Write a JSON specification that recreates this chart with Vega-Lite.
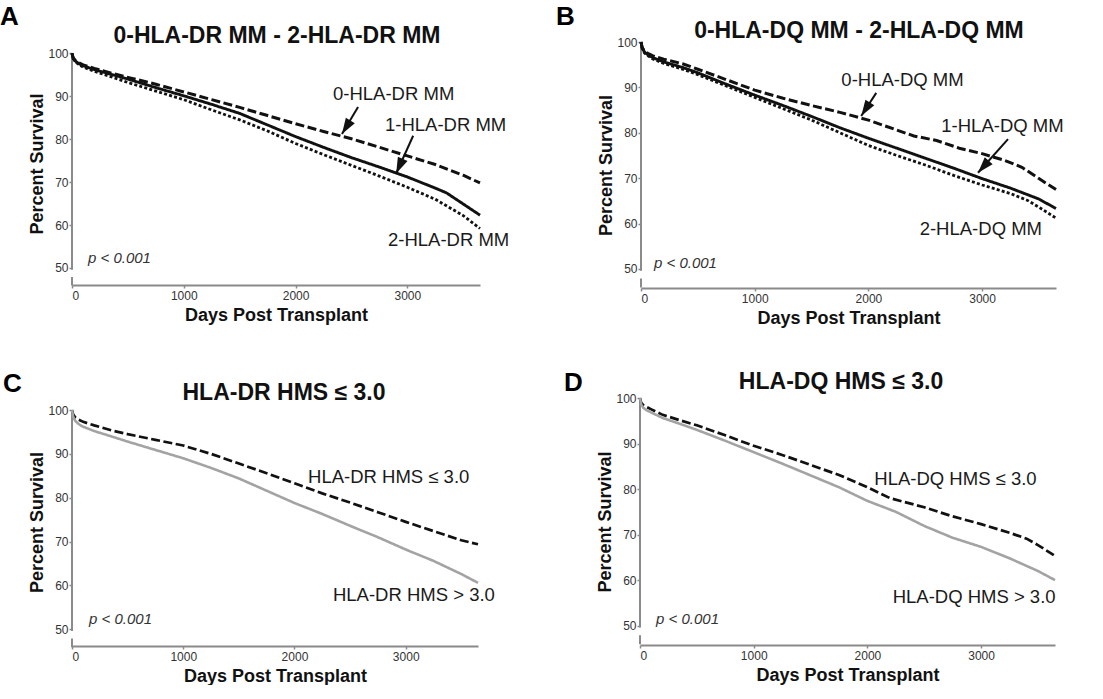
{
  "$schema": "https://vega.github.io/schema/vega-lite/v6.json",
  "description": "Kaplan-Meier survival by HLA-DR / HLA-DQ mismatch and HMS, four panels",
  "background": "white",
  "padding": {"left": 0, "top": 3, "right": 0, "bottom": 0},
  "config": {
    "font": "Liberation Sans",
    "view": {"stroke": null},
    "axis": {
      "grid": false, "domainColor": "#8a8a8a", "domainWidth": 2, "tickColor": "#8a8a8a", "tickWidth": 1.5,
      "tickSize": 3, "labelFont": "Liberation Sans", "labelFontSize": 12, "labelColor": "#333",
      "titleFont": "Liberation Sans", "titleFontSize": 18, "titleFontWeight": "bold", "titleColor": "#111"
    },
    "axisY": {"domain": false, "labelPadding": 1, "titlePadding": 1},
    "axisX": {"labelPadding": 2, "titlePadding": 5}
  },
  "datasets": {
    "ybreak": [
      {"day": 0, "pct": 49.6, "pct2": 100},
      {"day": 0, "pct": 45.9, "pct2": 47.9}
    ],
    "curves": [
      {"panel": "A", "group": "0 MM", "day": 0, "pct": 100}, {"panel": "A", "group": "0 MM", "day": 10, "pct": 99.0}, {"panel": "A", "group": "0 MM", "day": 30, "pct": 98.3}, {"panel": "A", "group": "0 MM", "day": 60, "pct": 97.8}, {"panel": "A", "group": "0 MM", "day": 100, "pct": 97.3}, {"panel": "A", "group": "0 MM", "day": 200, "pct": 96.5}, {"panel": "A", "group": "0 MM", "day": 365, "pct": 95.3}, {"panel": "A", "group": "0 MM", "day": 500, "pct": 94.4}, {"panel": "A", "group": "0 MM", "day": 750, "pct": 92.8}, {"panel": "A", "group": "0 MM", "day": 1000, "pct": 91.0}, {"panel": "A", "group": "0 MM", "day": 1250, "pct": 89.2}, {"panel": "A", "group": "0 MM", "day": 1500, "pct": 87.4}, {"panel": "A", "group": "0 MM", "day": 1750, "pct": 85.5}, {"panel": "A", "group": "0 MM", "day": 2000, "pct": 83.6}, {"panel": "A", "group": "0 MM", "day": 2250, "pct": 81.8}, {"panel": "A", "group": "0 MM", "day": 2500, "pct": 80.1}, {"panel": "A", "group": "0 MM", "day": 2750, "pct": 78.1}, {"panel": "A", "group": "0 MM", "day": 3000, "pct": 76.1}, {"panel": "A", "group": "0 MM", "day": 3250, "pct": 74.1}, {"panel": "A", "group": "0 MM", "day": 3500, "pct": 71.6}, {"panel": "A", "group": "0 MM", "day": 3650, "pct": 69.8},
      {"panel": "A", "group": "1 MM", "day": 0, "pct": 100}, {"panel": "A", "group": "1 MM", "day": 10, "pct": 98.9}, {"panel": "A", "group": "1 MM", "day": 30, "pct": 98.2}, {"panel": "A", "group": "1 MM", "day": 60, "pct": 97.6}, {"panel": "A", "group": "1 MM", "day": 100, "pct": 97.1}, {"panel": "A", "group": "1 MM", "day": 200, "pct": 96.2}, {"panel": "A", "group": "1 MM", "day": 365, "pct": 95.0}, {"panel": "A", "group": "1 MM", "day": 500, "pct": 94.0}, {"panel": "A", "group": "1 MM", "day": 750, "pct": 92.0}, {"panel": "A", "group": "1 MM", "day": 1000, "pct": 90.1}, {"panel": "A", "group": "1 MM", "day": 1250, "pct": 88.1}, {"panel": "A", "group": "1 MM", "day": 1500, "pct": 86.0}, {"panel": "A", "group": "1 MM", "day": 1750, "pct": 83.3}, {"panel": "A", "group": "1 MM", "day": 2000, "pct": 80.6}, {"panel": "A", "group": "1 MM", "day": 2250, "pct": 78.1}, {"panel": "A", "group": "1 MM", "day": 2500, "pct": 75.7}, {"panel": "A", "group": "1 MM", "day": 2750, "pct": 73.5}, {"panel": "A", "group": "1 MM", "day": 3000, "pct": 71.2}, {"panel": "A", "group": "1 MM", "day": 3250, "pct": 68.6}, {"panel": "A", "group": "1 MM", "day": 3350, "pct": 67.5}, {"panel": "A", "group": "1 MM", "day": 3500, "pct": 64.9}, {"panel": "A", "group": "1 MM", "day": 3650, "pct": 62.3},
      {"panel": "A", "group": "2 MM", "day": 0, "pct": 100}, {"panel": "A", "group": "2 MM", "day": 10, "pct": 98.8}, {"panel": "A", "group": "2 MM", "day": 30, "pct": 98.0}, {"panel": "A", "group": "2 MM", "day": 60, "pct": 97.4}, {"panel": "A", "group": "2 MM", "day": 100, "pct": 96.8}, {"panel": "A", "group": "2 MM", "day": 200, "pct": 95.8}, {"panel": "A", "group": "2 MM", "day": 365, "pct": 94.4}, {"panel": "A", "group": "2 MM", "day": 500, "pct": 93.2}, {"panel": "A", "group": "2 MM", "day": 750, "pct": 91.2}, {"panel": "A", "group": "2 MM", "day": 1000, "pct": 89.2}, {"panel": "A", "group": "2 MM", "day": 1250, "pct": 86.8}, {"panel": "A", "group": "2 MM", "day": 1500, "pct": 84.5}, {"panel": "A", "group": "2 MM", "day": 1750, "pct": 81.9}, {"panel": "A", "group": "2 MM", "day": 2000, "pct": 79.0}, {"panel": "A", "group": "2 MM", "day": 2250, "pct": 76.4}, {"panel": "A", "group": "2 MM", "day": 2500, "pct": 73.9}, {"panel": "A", "group": "2 MM", "day": 2750, "pct": 71.4}, {"panel": "A", "group": "2 MM", "day": 3000, "pct": 68.8}, {"panel": "A", "group": "2 MM", "day": 3250, "pct": 66.0}, {"panel": "A", "group": "2 MM", "day": 3500, "pct": 62.2}, {"panel": "A", "group": "2 MM", "day": 3650, "pct": 59.2},
      {"panel": "B", "group": "0 MM", "day": 0, "pct": 100}, {"panel": "B", "group": "0 MM", "day": 10, "pct": 98.8}, {"panel": "B", "group": "0 MM", "day": 30, "pct": 98.0}, {"panel": "B", "group": "0 MM", "day": 60, "pct": 97.5}, {"panel": "B", "group": "0 MM", "day": 100, "pct": 97.0}, {"panel": "B", "group": "0 MM", "day": 200, "pct": 96.2}, {"panel": "B", "group": "0 MM", "day": 365, "pct": 95.2}, {"panel": "B", "group": "0 MM", "day": 500, "pct": 94.0}, {"panel": "B", "group": "0 MM", "day": 750, "pct": 91.7}, {"panel": "B", "group": "0 MM", "day": 1000, "pct": 89.4}, {"panel": "B", "group": "0 MM", "day": 1250, "pct": 87.6}, {"panel": "B", "group": "0 MM", "day": 1500, "pct": 86.0}, {"panel": "B", "group": "0 MM", "day": 1750, "pct": 84.5}, {"panel": "B", "group": "0 MM", "day": 2000, "pct": 82.8}, {"panel": "B", "group": "0 MM", "day": 2250, "pct": 80.6}, {"panel": "B", "group": "0 MM", "day": 2400, "pct": 79.3}, {"panel": "B", "group": "0 MM", "day": 2600, "pct": 78.3}, {"panel": "B", "group": "0 MM", "day": 2800, "pct": 76.6}, {"panel": "B", "group": "0 MM", "day": 3000, "pct": 75.4}, {"panel": "B", "group": "0 MM", "day": 3200, "pct": 73.9}, {"panel": "B", "group": "0 MM", "day": 3350, "pct": 72.4}, {"panel": "B", "group": "0 MM", "day": 3500, "pct": 69.9}, {"panel": "B", "group": "0 MM", "day": 3650, "pct": 67.5},
      {"panel": "B", "group": "1 MM", "day": 0, "pct": 100}, {"panel": "B", "group": "1 MM", "day": 10, "pct": 98.8}, {"panel": "B", "group": "1 MM", "day": 30, "pct": 97.8}, {"panel": "B", "group": "1 MM", "day": 60, "pct": 97.2}, {"panel": "B", "group": "1 MM", "day": 100, "pct": 96.6}, {"panel": "B", "group": "1 MM", "day": 200, "pct": 95.6}, {"panel": "B", "group": "1 MM", "day": 365, "pct": 94.4}, {"panel": "B", "group": "1 MM", "day": 500, "pct": 93.2}, {"panel": "B", "group": "1 MM", "day": 750, "pct": 90.7}, {"panel": "B", "group": "1 MM", "day": 1000, "pct": 88.3}, {"panel": "B", "group": "1 MM", "day": 1250, "pct": 86.0}, {"panel": "B", "group": "1 MM", "day": 1500, "pct": 83.6}, {"panel": "B", "group": "1 MM", "day": 1750, "pct": 81.1}, {"panel": "B", "group": "1 MM", "day": 2000, "pct": 78.8}, {"panel": "B", "group": "1 MM", "day": 2250, "pct": 76.6}, {"panel": "B", "group": "1 MM", "day": 2500, "pct": 74.4}, {"panel": "B", "group": "1 MM", "day": 2750, "pct": 72.2}, {"panel": "B", "group": "1 MM", "day": 3000, "pct": 69.9}, {"panel": "B", "group": "1 MM", "day": 3250, "pct": 67.8}, {"panel": "B", "group": "1 MM", "day": 3500, "pct": 65.4}, {"panel": "B", "group": "1 MM", "day": 3650, "pct": 63.3},
      {"panel": "B", "group": "2 MM", "day": 0, "pct": 100}, {"panel": "B", "group": "2 MM", "day": 10, "pct": 98.6}, {"panel": "B", "group": "2 MM", "day": 30, "pct": 97.6}, {"panel": "B", "group": "2 MM", "day": 60, "pct": 97.0}, {"panel": "B", "group": "2 MM", "day": 100, "pct": 96.3}, {"panel": "B", "group": "2 MM", "day": 200, "pct": 95.3}, {"panel": "B", "group": "2 MM", "day": 365, "pct": 94.0}, {"panel": "B", "group": "2 MM", "day": 500, "pct": 92.8}, {"panel": "B", "group": "2 MM", "day": 750, "pct": 90.3}, {"panel": "B", "group": "2 MM", "day": 1000, "pct": 87.8}, {"panel": "B", "group": "2 MM", "day": 1250, "pct": 85.3}, {"panel": "B", "group": "2 MM", "day": 1500, "pct": 82.8}, {"panel": "B", "group": "2 MM", "day": 1750, "pct": 80.0}, {"panel": "B", "group": "2 MM", "day": 2000, "pct": 77.2}, {"panel": "B", "group": "2 MM", "day": 2250, "pct": 75.0}, {"panel": "B", "group": "2 MM", "day": 2500, "pct": 72.9}, {"panel": "B", "group": "2 MM", "day": 2750, "pct": 70.6}, {"panel": "B", "group": "2 MM", "day": 3000, "pct": 68.5}, {"panel": "B", "group": "2 MM", "day": 3250, "pct": 66.6}, {"panel": "B", "group": "2 MM", "day": 3400, "pct": 65.1}, {"panel": "B", "group": "2 MM", "day": 3500, "pct": 63.6}, {"panel": "B", "group": "2 MM", "day": 3650, "pct": 61.2},
      {"panel": "C", "group": "HMS ≤ 3.0", "day": 0, "pct": 100}, {"panel": "C", "group": "HMS ≤ 3.0", "day": 10, "pct": 99.0}, {"panel": "C", "group": "HMS ≤ 3.0", "day": 30, "pct": 98.3}, {"panel": "C", "group": "HMS ≤ 3.0", "day": 60, "pct": 97.8}, {"panel": "C", "group": "HMS ≤ 3.0", "day": 100, "pct": 97.3}, {"panel": "C", "group": "HMS ≤ 3.0", "day": 200, "pct": 96.5}, {"panel": "C", "group": "HMS ≤ 3.0", "day": 365, "pct": 95.3}, {"panel": "C", "group": "HMS ≤ 3.0", "day": 500, "pct": 94.5}, {"panel": "C", "group": "HMS ≤ 3.0", "day": 750, "pct": 93.2}, {"panel": "C", "group": "HMS ≤ 3.0", "day": 1000, "pct": 91.9}, {"panel": "C", "group": "HMS ≤ 3.0", "day": 1250, "pct": 90.0}, {"panel": "C", "group": "HMS ≤ 3.0", "day": 1500, "pct": 87.8}, {"panel": "C", "group": "HMS ≤ 3.0", "day": 1750, "pct": 85.6}, {"panel": "C", "group": "HMS ≤ 3.0", "day": 2000, "pct": 83.3}, {"panel": "C", "group": "HMS ≤ 3.0", "day": 2250, "pct": 81.0}, {"panel": "C", "group": "HMS ≤ 3.0", "day": 2500, "pct": 78.9}, {"panel": "C", "group": "HMS ≤ 3.0", "day": 2750, "pct": 76.7}, {"panel": "C", "group": "HMS ≤ 3.0", "day": 3000, "pct": 74.5}, {"panel": "C", "group": "HMS ≤ 3.0", "day": 3250, "pct": 72.4}, {"panel": "C", "group": "HMS ≤ 3.0", "day": 3500, "pct": 70.3}, {"panel": "C", "group": "HMS ≤ 3.0", "day": 3650, "pct": 69.4},
      {"panel": "C", "group": "HMS > 3.0", "day": 0, "pct": 100}, {"panel": "C", "group": "HMS > 3.0", "day": 10, "pct": 98.5}, {"panel": "C", "group": "HMS > 3.0", "day": 30, "pct": 97.5}, {"panel": "C", "group": "HMS > 3.0", "day": 60, "pct": 96.8}, {"panel": "C", "group": "HMS > 3.0", "day": 100, "pct": 96.2}, {"panel": "C", "group": "HMS > 3.0", "day": 200, "pct": 95.2}, {"panel": "C", "group": "HMS > 3.0", "day": 365, "pct": 93.9}, {"panel": "C", "group": "HMS > 3.0", "day": 500, "pct": 92.8}, {"panel": "C", "group": "HMS > 3.0", "day": 750, "pct": 90.9}, {"panel": "C", "group": "HMS > 3.0", "day": 1000, "pct": 89.0}, {"panel": "C", "group": "HMS > 3.0", "day": 1250, "pct": 86.8}, {"panel": "C", "group": "HMS > 3.0", "day": 1500, "pct": 84.4}, {"panel": "C", "group": "HMS > 3.0", "day": 1750, "pct": 81.6}, {"panel": "C", "group": "HMS > 3.0", "day": 2000, "pct": 78.8}, {"panel": "C", "group": "HMS > 3.0", "day": 2250, "pct": 76.3}, {"panel": "C", "group": "HMS > 3.0", "day": 2500, "pct": 73.6}, {"panel": "C", "group": "HMS > 3.0", "day": 2750, "pct": 71.0}, {"panel": "C", "group": "HMS > 3.0", "day": 3000, "pct": 68.2}, {"panel": "C", "group": "HMS > 3.0", "day": 3250, "pct": 65.6}, {"panel": "C", "group": "HMS > 3.0", "day": 3500, "pct": 62.6}, {"panel": "C", "group": "HMS > 3.0", "day": 3650, "pct": 60.6},
      {"panel": "D", "group": "HMS ≤ 3.0", "day": 0, "pct": 100}, {"panel": "D", "group": "HMS ≤ 3.0", "day": 10, "pct": 99.0}, {"panel": "D", "group": "HMS ≤ 3.0", "day": 30, "pct": 98.4}, {"panel": "D", "group": "HMS ≤ 3.0", "day": 60, "pct": 98.0}, {"panel": "D", "group": "HMS ≤ 3.0", "day": 100, "pct": 97.5}, {"panel": "D", "group": "HMS ≤ 3.0", "day": 200, "pct": 96.3}, {"panel": "D", "group": "HMS ≤ 3.0", "day": 365, "pct": 95.0}, {"panel": "D", "group": "HMS ≤ 3.0", "day": 500, "pct": 94.0}, {"panel": "D", "group": "HMS ≤ 3.0", "day": 750, "pct": 91.8}, {"panel": "D", "group": "HMS ≤ 3.0", "day": 1000, "pct": 89.5}, {"panel": "D", "group": "HMS ≤ 3.0", "day": 1250, "pct": 87.5}, {"panel": "D", "group": "HMS ≤ 3.0", "day": 1500, "pct": 85.3}, {"panel": "D", "group": "HMS ≤ 3.0", "day": 1750, "pct": 83.1}, {"panel": "D", "group": "HMS ≤ 3.0", "day": 2000, "pct": 80.4}, {"panel": "D", "group": "HMS ≤ 3.0", "day": 2200, "pct": 78.0}, {"panel": "D", "group": "HMS ≤ 3.0", "day": 2500, "pct": 76.0}, {"panel": "D", "group": "HMS ≤ 3.0", "day": 2750, "pct": 74.0}, {"panel": "D", "group": "HMS ≤ 3.0", "day": 3000, "pct": 72.3}, {"panel": "D", "group": "HMS ≤ 3.0", "day": 3250, "pct": 70.4}, {"panel": "D", "group": "HMS ≤ 3.0", "day": 3400, "pct": 69.1}, {"panel": "D", "group": "HMS ≤ 3.0", "day": 3500, "pct": 67.7}, {"panel": "D", "group": "HMS ≤ 3.0", "day": 3650, "pct": 65.3},
      {"panel": "D", "group": "HMS > 3.0", "day": 0, "pct": 100}, {"panel": "D", "group": "HMS > 3.0", "day": 10, "pct": 98.6}, {"panel": "D", "group": "HMS > 3.0", "day": 30, "pct": 97.8}, {"panel": "D", "group": "HMS > 3.0", "day": 60, "pct": 97.3}, {"panel": "D", "group": "HMS > 3.0", "day": 100, "pct": 96.8}, {"panel": "D", "group": "HMS > 3.0", "day": 200, "pct": 95.6}, {"panel": "D", "group": "HMS > 3.0", "day": 365, "pct": 94.2}, {"panel": "D", "group": "HMS > 3.0", "day": 500, "pct": 93.0}, {"panel": "D", "group": "HMS > 3.0", "day": 750, "pct": 90.6}, {"panel": "D", "group": "HMS > 3.0", "day": 1000, "pct": 88.1}, {"panel": "D", "group": "HMS > 3.0", "day": 1250, "pct": 85.6}, {"panel": "D", "group": "HMS > 3.0", "day": 1500, "pct": 83.0}, {"panel": "D", "group": "HMS > 3.0", "day": 1750, "pct": 80.4}, {"panel": "D", "group": "HMS > 3.0", "day": 2000, "pct": 77.4}, {"panel": "D", "group": "HMS > 3.0", "day": 2250, "pct": 75.0}, {"panel": "D", "group": "HMS > 3.0", "day": 2500, "pct": 71.9}, {"panel": "D", "group": "HMS > 3.0", "day": 2750, "pct": 69.3}, {"panel": "D", "group": "HMS > 3.0", "day": 3000, "pct": 67.3}, {"panel": "D", "group": "HMS > 3.0", "day": 3250, "pct": 64.8}, {"panel": "D", "group": "HMS > 3.0", "day": 3500, "pct": 62.0}, {"panel": "D", "group": "HMS > 3.0", "day": 3650, "pct": 60.0}
    ],
    "letters": [
      {"panel": "A", "text": "A", "day": -644, "pct": 106.6},
      {"panel": "B", "text": "B", "day": -748, "pct": 103.8},
      {"panel": "C", "text": "C", "day": -620, "pct": 104.1},
      {"panel": "D", "text": "D", "day": -668, "pct": 101.5}
    ],
    "headings": [
      {"panel": "A", "text": "0-HLA-DR MM - 2-HLA-DR MM", "day": 1834, "pct": 102.33},
      {"panel": "B", "text": "0-HLA-DQ MM - 2-HLA-DQ MM", "day": 1917, "pct": 100.9},
      {"panel": "C", "text": "HLA-DR HMS ≤ 3.0", "day": 1906, "pct": 102.28},
      {"panel": "D", "text": "HLA-DQ HMS ≤ 3.0", "day": 1768, "pct": 102.07}
    ],
    "labels": [
      {"panel": "A", "text": "0-HLA-DR MM", "day": 2335, "pct": 90.6},
      {"panel": "A", "text": "1-HLA-DR MM", "day": 2800, "pct": 83.3},
      {"panel": "A", "text": "2-HLA-DR MM", "day": 2827, "pct": 56.5},
      {"panel": "B", "text": "0-HLA-DQ MM", "day": 1762, "pct": 91.7},
      {"panel": "B", "text": "1-HLA-DQ MM", "day": 2641, "pct": 81.4},
      {"panel": "B", "text": "2-HLA-DQ MM", "day": 2451, "pct": 58.7},
      {"panel": "C", "text": "HLA-DR HMS ≤ 3.0", "day": 2122, "pct": 84.8},
      {"panel": "C", "text": "HLA-DR HMS > 3.0", "day": 2346, "pct": 57.8},
      {"panel": "D", "text": "HLA-DQ HMS ≤ 3.0", "day": 2061, "pct": 82.3},
      {"panel": "D", "text": "HLA-DQ HMS > 3.0", "day": 2222, "pct": 56.2}
    ],
    "pvalues": [
      {"panel": "A", "text": "p < 0.001", "day": 143, "pct": 52.3},
      {"panel": "B", "text": "p < 0.001", "day": 114, "pct": 51.3},
      {"panel": "C", "text": "p < 0.001", "day": 153, "pct": 52.3},
      {"panel": "D", "text": "p < 0.001", "day": 141, "pct": 51.5}
    ],
    "arrows": [
      {"panel": "A", "day": 2415, "pct": 81.2, "day2": 2559, "pct2": 87.5, "angle": 211.6},
      {"panel": "A", "day": 2900, "pct": 72.0, "day2": 3052, "pct2": 80.8, "angle": 204.1},
      {"panel": "B", "day": 1937, "pct": 83.7, "day2": 2069, "pct2": 88.8, "angle": 212.7},
      {"panel": "B", "day": 2964, "pct": 71.2, "day2": 3228, "pct2": 78.6, "angle": 222}
    ]
  },
  "vconcat": [
    {
      "hconcat": [
        {
          "width": 408, "height": 243,
          "encoding": {
            "x": {"field": "day", "type": "quantitative", "title": "Days Post Transplant", "scale": {"domain": [0, 3650], "nice": false, "zero": false}, "axis": {"values": [0, 1000, 2000, 3000], "format": "d"}},
            "y": {"field": "pct", "type": "quantitative", "title": "Percent Survival", "scale": {"domain": [46.04, 102.63], "nice": false, "zero": false}, "axis": {"values": [50, 60, 70, 80, 90, 100]}}
          },
          "layer": [
            {"data": {"name": "ybreak"}, "mark": {"type": "rule", "color": "#8a8a8a", "strokeWidth": 2}, "encoding": {"y2": {"field": "pct2"}}},
            {"data": {"name": "curves"}, "transform": [{"filter": "datum.panel === 'A'"}], "mark": {"type": "line"},
             "encoding": {
               "color": {"field": "group", "type": "nominal", "legend": null, "scale": {"domain": ["0 MM", "1 MM", "2 MM", "HMS ≤ 3.0", "HMS > 3.0"], "range": ["#111111", "#111111", "#111111", "#111111", "#a3a3a3"]}},
               "strokeDash": {"field": "group", "type": "nominal", "legend": null, "scale": {"domain": ["0 MM", "1 MM", "2 MM", "HMS ≤ 3.0", "HMS > 3.0"], "range": [[9, 3.5], [1, 0], [3, 2.2], [9, 3.5], [1, 0]]}},
               "size": {"field": "group", "type": "nominal", "legend": null, "scale": {"domain": ["0 MM", "1 MM", "2 MM", "HMS ≤ 3.0", "HMS > 3.0"], "range": [3, 2.6, 3, 3, 3.2]}}
             }},
            {"data": {"name": "arrows"}, "transform": [{"filter": "datum.panel === 'A'"}], "mark": {"type": "rule", "color": "#111", "strokeWidth": 2}, "encoding": {"x2": {"field": "day2"}, "y2": {"field": "pct2"}}},
            {"data": {"name": "arrows"}, "transform": [{"filter": "datum.panel === 'A'"}], "mark": {"type": "point", "shape": "M0,0L0.33,1L-0.33,1Z", "filled": true, "color": "#111", "opacity": 1, "size": 1024}, "encoding": {"angle": {"field": "angle", "type": "quantitative", "scale": null}}},
            {"data": {"name": "labels"}, "transform": [{"filter": "datum.panel === 'A'"}], "mark": {"type": "text", "align": "left", "baseline": "middle", "fontSize": 18.5, "color": "#1a1a1a"}, "encoding": {"text": {"field": "text"}}},
            {"data": {"name": "pvalues"}, "transform": [{"filter": "datum.panel === 'A'"}], "mark": {"type": "text", "align": "left", "baseline": "middle", "fontSize": 15, "fontStyle": "italic", "color": "#333"}, "encoding": {"text": {"field": "text"}}},
            {"data": {"name": "headings"}, "transform": [{"filter": "datum.panel === 'A'"}], "mark": {"type": "text", "align": "center", "baseline": "alphabetic", "fontSize": 23, "fontWeight": "bold", "color": "#111"}, "encoding": {"text": {"field": "text"}}},
            {"data": {"name": "letters"}, "transform": [{"filter": "datum.panel === 'A'"}], "mark": {"type": "text", "align": "left", "baseline": "alphabetic", "fontSize": 26, "fontWeight": "bold", "color": "#000"}, "encoding": {"text": {"field": "text"}}}
          ]
        },
        {
          "width": 415, "height": 246,
          "encoding": {
            "x": {"field": "day", "type": "quantitative", "title": "Days Post Transplant", "scale": {"domain": [0, 3650], "nice": false, "zero": false}, "axis": {"values": [0, 1000, 2000, 3000], "format": "d"}},
            "y": {"field": "pct", "type": "quantitative", "title": "Percent Survival", "scale": {"domain": [45.8, 100], "nice": false, "zero": false}, "axis": {"values": [50, 60, 70, 80, 90, 100]}}
          },
          "layer": [
            {"data": {"name": "ybreak"}, "mark": {"type": "rule", "color": "#8a8a8a", "strokeWidth": 2}, "encoding": {"y2": {"field": "pct2"}}},
            {"data": {"name": "curves"}, "transform": [{"filter": "datum.panel === 'B'"}], "mark": {"type": "line"},
             "encoding": {
               "color": {"field": "group", "type": "nominal", "legend": null, "scale": {"domain": ["0 MM", "1 MM", "2 MM", "HMS ≤ 3.0", "HMS > 3.0"], "range": ["#111111", "#111111", "#111111", "#111111", "#a3a3a3"]}},
               "strokeDash": {"field": "group", "type": "nominal", "legend": null, "scale": {"domain": ["0 MM", "1 MM", "2 MM", "HMS ≤ 3.0", "HMS > 3.0"], "range": [[9, 3.5], [1, 0], [3, 2.2], [9, 3.5], [1, 0]]}},
               "size": {"field": "group", "type": "nominal", "legend": null, "scale": {"domain": ["0 MM", "1 MM", "2 MM", "HMS ≤ 3.0", "HMS > 3.0"], "range": [3, 2.6, 3, 3, 3.2]}}
             }},
            {"data": {"name": "arrows"}, "transform": [{"filter": "datum.panel === 'B'"}], "mark": {"type": "rule", "color": "#111", "strokeWidth": 2}, "encoding": {"x2": {"field": "day2"}, "y2": {"field": "pct2"}}},
            {"data": {"name": "arrows"}, "transform": [{"filter": "datum.panel === 'B'"}], "mark": {"type": "point", "shape": "M0,0L0.33,1L-0.33,1Z", "filled": true, "color": "#111", "opacity": 1, "size": 1024}, "encoding": {"angle": {"field": "angle", "type": "quantitative", "scale": null}}},
            {"data": {"name": "labels"}, "transform": [{"filter": "datum.panel === 'B'"}], "mark": {"type": "text", "align": "left", "baseline": "middle", "fontSize": 18.5, "color": "#1a1a1a"}, "encoding": {"text": {"field": "text"}}},
            {"data": {"name": "pvalues"}, "transform": [{"filter": "datum.panel === 'B'"}], "mark": {"type": "text", "align": "left", "baseline": "middle", "fontSize": 15, "fontStyle": "italic", "color": "#333"}, "encoding": {"text": {"field": "text"}}},
            {"data": {"name": "headings"}, "transform": [{"filter": "datum.panel === 'B'"}], "mark": {"type": "text", "align": "center", "baseline": "alphabetic", "fontSize": 23, "fontWeight": "bold", "color": "#111"}, "encoding": {"text": {"field": "text"}}},
            {"data": {"name": "letters"}, "transform": [{"filter": "datum.panel === 'B'"}], "mark": {"type": "text", "align": "left", "baseline": "alphabetic", "fontSize": 26, "fontWeight": "bold", "color": "#000"}, "encoding": {"text": {"field": "text"}}}
          ]
        }
      ],
      "spacing": 45
    },
    {
      "hconcat": [
        {
          "width": 406, "height": 248,
          "encoding": {
            "x": {"field": "day", "type": "quantitative", "title": "Days Post Transplant", "scale": {"domain": [0, 3650], "nice": false, "zero": false}, "axis": {"values": [0, 1000, 2000, 3000], "format": "d"}},
            "y": {"field": "pct", "type": "quantitative", "title": "Percent Survival", "scale": {"domain": [46.2, 102.74], "nice": false, "zero": false}, "axis": {"values": [50, 60, 70, 80, 90, 100]}}
          },
          "layer": [
            {"data": {"name": "ybreak"}, "mark": {"type": "rule", "color": "#8a8a8a", "strokeWidth": 2}, "encoding": {"y2": {"field": "pct2"}}},
            {"data": {"name": "curves"}, "transform": [{"filter": "datum.panel === 'C'"}], "mark": {"type": "line"},
             "encoding": {
               "color": {"field": "group", "type": "nominal", "legend": null, "scale": {"domain": ["0 MM", "1 MM", "2 MM", "HMS ≤ 3.0", "HMS > 3.0"], "range": ["#111111", "#111111", "#111111", "#111111", "#a3a3a3"]}},
               "strokeDash": {"field": "group", "type": "nominal", "legend": null, "scale": {"domain": ["0 MM", "1 MM", "2 MM", "HMS ≤ 3.0", "HMS > 3.0"], "range": [[9, 3.5], [1, 0], [3, 2.2], [9, 3.5], [1, 0]]}},
               "size": {"field": "group", "type": "nominal", "legend": null, "scale": {"domain": ["0 MM", "1 MM", "2 MM", "HMS ≤ 3.0", "HMS > 3.0"], "range": [3, 2.6, 3, 3, 3.2]}}
             }},
            {"data": {"name": "labels"}, "transform": [{"filter": "datum.panel === 'C'"}], "mark": {"type": "text", "align": "left", "baseline": "middle", "fontSize": 18.5, "color": "#1a1a1a"}, "encoding": {"text": {"field": "text"}}},
            {"data": {"name": "pvalues"}, "transform": [{"filter": "datum.panel === 'C'"}], "mark": {"type": "text", "align": "left", "baseline": "middle", "fontSize": 15, "fontStyle": "italic", "color": "#333"}, "encoding": {"text": {"field": "text"}}},
            {"data": {"name": "headings"}, "transform": [{"filter": "datum.panel === 'C'"}], "mark": {"type": "text", "align": "center", "baseline": "alphabetic", "fontSize": 23, "fontWeight": "bold", "color": "#111"}, "encoding": {"text": {"field": "text"}}},
            {"data": {"name": "letters"}, "transform": [{"filter": "datum.panel === 'C'"}], "mark": {"type": "text", "align": "left", "baseline": "alphabetic", "fontSize": 26, "fontWeight": "bold", "color": "#000"}, "encoding": {"text": {"field": "text"}}}
          ]
        },
        {
          "width": 415, "height": 247,
          "encoding": {
            "x": {"field": "day", "type": "quantitative", "title": "Days Post Transplant", "scale": {"domain": [0, 3650], "nice": false, "zero": false}, "axis": {"values": [0, 1000, 2000, 3000], "format": "d"}},
            "y": {"field": "pct", "type": "quantitative", "title": "Percent Survival", "scale": {"domain": [45.75, 100], "nice": false, "zero": false}, "axis": {"values": [50, 60, 70, 80, 90, 100]}}
          },
          "layer": [
            {"data": {"name": "ybreak"}, "mark": {"type": "rule", "color": "#8a8a8a", "strokeWidth": 2}, "encoding": {"y2": {"field": "pct2"}}},
            {"data": {"name": "curves"}, "transform": [{"filter": "datum.panel === 'D'"}], "mark": {"type": "line"},
             "encoding": {
               "color": {"field": "group", "type": "nominal", "legend": null, "scale": {"domain": ["0 MM", "1 MM", "2 MM", "HMS ≤ 3.0", "HMS > 3.0"], "range": ["#111111", "#111111", "#111111", "#111111", "#a3a3a3"]}},
               "strokeDash": {"field": "group", "type": "nominal", "legend": null, "scale": {"domain": ["0 MM", "1 MM", "2 MM", "HMS ≤ 3.0", "HMS > 3.0"], "range": [[9, 3.5], [1, 0], [3, 2.2], [9, 3.5], [1, 0]]}},
               "size": {"field": "group", "type": "nominal", "legend": null, "scale": {"domain": ["0 MM", "1 MM", "2 MM", "HMS ≤ 3.0", "HMS > 3.0"], "range": [3, 2.6, 3, 3, 3.2]}}
             }},
            {"data": {"name": "labels"}, "transform": [{"filter": "datum.panel === 'D'"}], "mark": {"type": "text", "align": "left", "baseline": "middle", "fontSize": 18.5, "color": "#1a1a1a"}, "encoding": {"text": {"field": "text"}}},
            {"data": {"name": "pvalues"}, "transform": [{"filter": "datum.panel === 'D'"}], "mark": {"type": "text", "align": "left", "baseline": "middle", "fontSize": 15, "fontStyle": "italic", "color": "#333"}, "encoding": {"text": {"field": "text"}}},
            {"data": {"name": "headings"}, "transform": [{"filter": "datum.panel === 'D'"}], "mark": {"type": "text", "align": "center", "baseline": "alphabetic", "fontSize": 23, "fontWeight": "bold", "color": "#111"}, "encoding": {"text": {"field": "text"}}},
            {"data": {"name": "letters"}, "transform": [{"filter": "datum.panel === 'D'"}], "mark": {"type": "text", "align": "left", "baseline": "alphabetic", "fontSize": 26, "fontWeight": "bold", "color": "#000"}, "encoding": {"text": {"field": "text"}}}
          ]
        }
      ],
      "spacing": 69
    }
  ],
  "spacing": 43
}
